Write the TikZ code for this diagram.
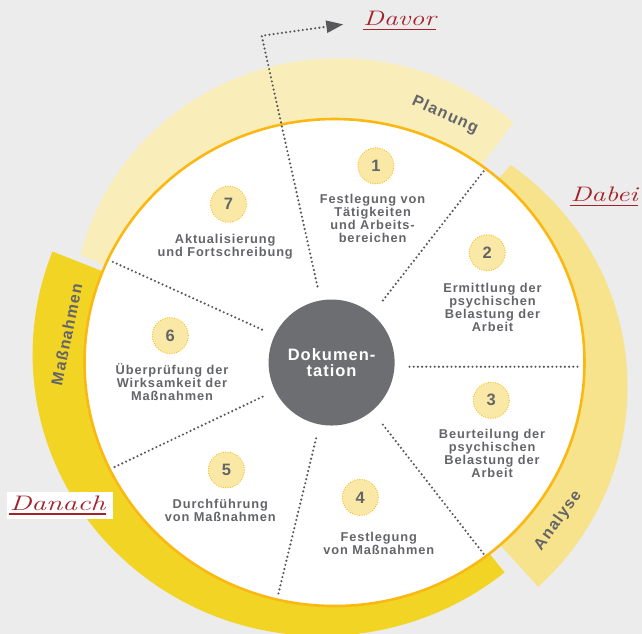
\documentclass[tikz,border=0pt]{standalone}
\usepackage{fontspec}
\usepackage{tikz}
\usetikzlibrary{arrows.meta}

\newfontfamily\stepfont[LetterSpace=7]{Liberation Sans}
\newfontfamily\bandfont[LetterSpace=8]{Liberation Sans}
\newfontfamily\dokufont[LetterSpace=6]{Liberation Sans}
\newfontfamily\numfont{Liberation Sans}

\definecolor{bggray}{HTML}{ECECEC}
\definecolor{planband}{HTML}{F9EEB9}
\definecolor{anaband}{HTML}{F6E38B}
\definecolor{massband}{HTML}{F2D524}
\definecolor{rimorange}{HTML}{FBB813}
\definecolor{txtgray}{HTML}{646569}
\definecolor{dotgray}{HTML}{58585C}
\definecolor{numfill}{HTML}{FAE9A6}
\definecolor{handred}{HTML}{A3222B}
\definecolor{dokugray}{HTML}{6D6E71}

\begin{document}
\begin{tikzpicture}[x=1pt,y=0.974pt,
    spoke/.style={dotgray,line width=2.4pt,dash pattern=on 0pt off 4.2pt,line cap=round},
    numcircle/.style={circle,fill=numfill,draw=rimorange,line width=1.2pt,dash pattern=on 0pt off 2.4pt,line cap=round,minimum size=36pt,inner sep=0pt,text=txtgray,font=\numfont\bfseries\fontsize{16.5}{16.5}\selectfont},
    steptext/.style={align=center,text=txtgray,inner sep=0pt,font=\stepfont\bfseries\fontsize{12.8}{13}\selectfont},
    bandtext/.style={text=txtgray,inner sep=0pt,font=\bandfont\bfseries\fontsize{16}{16}\selectfont},
    handtext/.style={text=handred,inner sep=0pt,font=\itshape\fontsize{21}{21}\selectfont},
    handline/.style={handred,line width=1.4pt}]
  % background
  \useasboundingbox (-334.5,-278.7) rectangle (307.5,372.2);
  \fill[bggray] (-334.5,-278.7) rectangle (307.5,372.2);

  % phase bands
  \begin{scope}
    \clip (0,0) -- (54:430) -- (90:430) -- (125:430) -- (156.5:430) -- cycle;
    \fill[planband] (3.9,46.7) ellipse[x radius=265.6pt,y radius=258.7pt];
  \end{scope}
  \begin{scope}
    \clip (0,0) -- (158:450) -- (190:450) -- (230:450) -- (270:450) -- (308.3:450) -- cycle;
    \fill[massband] (-12.9,8.3) ellipse[x radius=289pt,y radius=281.5pt];
  \end{scope}
  \begin{scope}
    \clip (0,0) -- (-48.5:450) -- (-15:450) -- (15:450) -- (49:450) -- cycle;
    \fill[anaband] (12.4,-25) ellipse[x radius=280.6pt,y radius=273.3pt];
  \end{scope}

  % disk
  \filldraw[fill=white,draw=rimorange,line width=2.6pt] (0,0) ellipse[x radius=250pt,y radius=243.5pt];

  % spokes
  \coordinate (s2) at (52.8:80);   \coordinate (e2) at (52.8:247.5);
  \coordinate (s3) at (75,-4.3);   \coordinate (e3) at (247,-4.3);
  \coordinate (s4) at (-52.8:80);  \coordinate (e4) at (-52.8:247.5);
  \coordinate (s5) at (-103.3:80); \coordinate (e5) at (-103.3:247.5);
  \coordinate (s6) at (-154:80);   \coordinate (e6) at (-154:247.5);
  \coordinate (s7) at (155:80);    \coordinate (e7) at (155:247.5);
  \draw[spoke] (s2) -- (e2);
  \draw[spoke] (s3) -- (e3);
  \draw[spoke] (s4) -- (e4);
  \draw[spoke] (s5) -- (e5);
  \draw[spoke] (s6) -- (e6);
  \draw[spoke] (s7) -- (e7);

  % arrow to Davor
  \coordinate (d0) at (102.3:80);
  \coordinate (d1) at (-72.8,335.5);
  \coordinate (d2) at (8.8,347.2);
  \draw[spoke,-{Triangle[length=17pt,width=12pt]}] (d0) -- (d1) -- (d2);

  % centre
  \node[circle,fill=dokugray,minimum size=126pt,inner sep=0pt,text=white,align=center,
        font=\dokufont\bfseries\fontsize{16.5}{15.7}\selectfont] (doku) at (-2.9,0) {Dokumen-\\tation};

  % steps
  \node[numcircle] (n1) at (41.4,201.9) {1};
  \node[steptext] (t1) at (38.1,147.5) {Festlegung von\\Tätigkeiten\\und Arbeits-\\bereichen};
  \node[numcircle] (n2) at (152.7,112.7) {2};
  \node[steptext] (t2) at (158,56.5) {Ermittlung der\\psychischen\\Belastung der\\Arbeit};
  \node[numcircle] (n3) at (156.8,-38.8) {3};
  \node[steptext] (t3) at (157.6,-93.5) {Beurteilung der\\psychischen\\Belastung der\\Arbeit};
  \node[numcircle] (n4) at (25.8,-138.5) {4};
  \node[steptext] (t4) at (44.2,-186.2) {Festlegung\\von Maßnahmen};
  \node[numcircle] (n5) at (-108.1,-110.3) {5};
  \node[steptext] (t5) at (-114.2,-152.2) {Durchführung\\von Maßnahmen};
  \node[numcircle] (n6) at (-164.2,27.6) {6};
  \node[steptext] (t6) at (-162.5,-20) {Überprüfung der\\Wirksamkeit der\\Maßnahmen};
  \node[numcircle] (n7) at (-106,162.5) {7};
  \node[steptext] (t7) at (-109.3,119.1) {Aktualisierung\\und Fortschreibung};

  % band names
  \node[bandtext,rotate=-24.5] (planung) at (110.5,254.1) {Planung};
  \node[bandtext,rotate=78.4] (massnahmen) at (-267.8,29.1) {Maßnahmen};
  \node[bandtext,rotate=54.2] (analyse) at (223.8,-162.5) {Analyse};

  % phases
  \node[handtext,xscale=1.33] (davor) at (65,352.8) {Davor};
  \draw[handline] ([yshift=-3.3pt]davor.base west) -- ([yshift=-3.3pt]davor.base east);
  \node[handtext,xscale=1.34] (dabei) at (269.8,172.5) {Dabei};
  \draw[handline] ([yshift=-3.8pt]dabei.base west) -- ([yshift=-3.8pt]dabei.base east);
  \fill[white] (-327.8,-132.6) rectangle (-221.8,-160.7);
  \node[handtext,xscale=1.41] (danach) at (-277,-144.6) {Danach};
  \draw[handline] ([yshift=-3.3pt]danach.base west) -- ([yshift=-3.3pt]danach.base east);
\end{tikzpicture}
\end{document}
